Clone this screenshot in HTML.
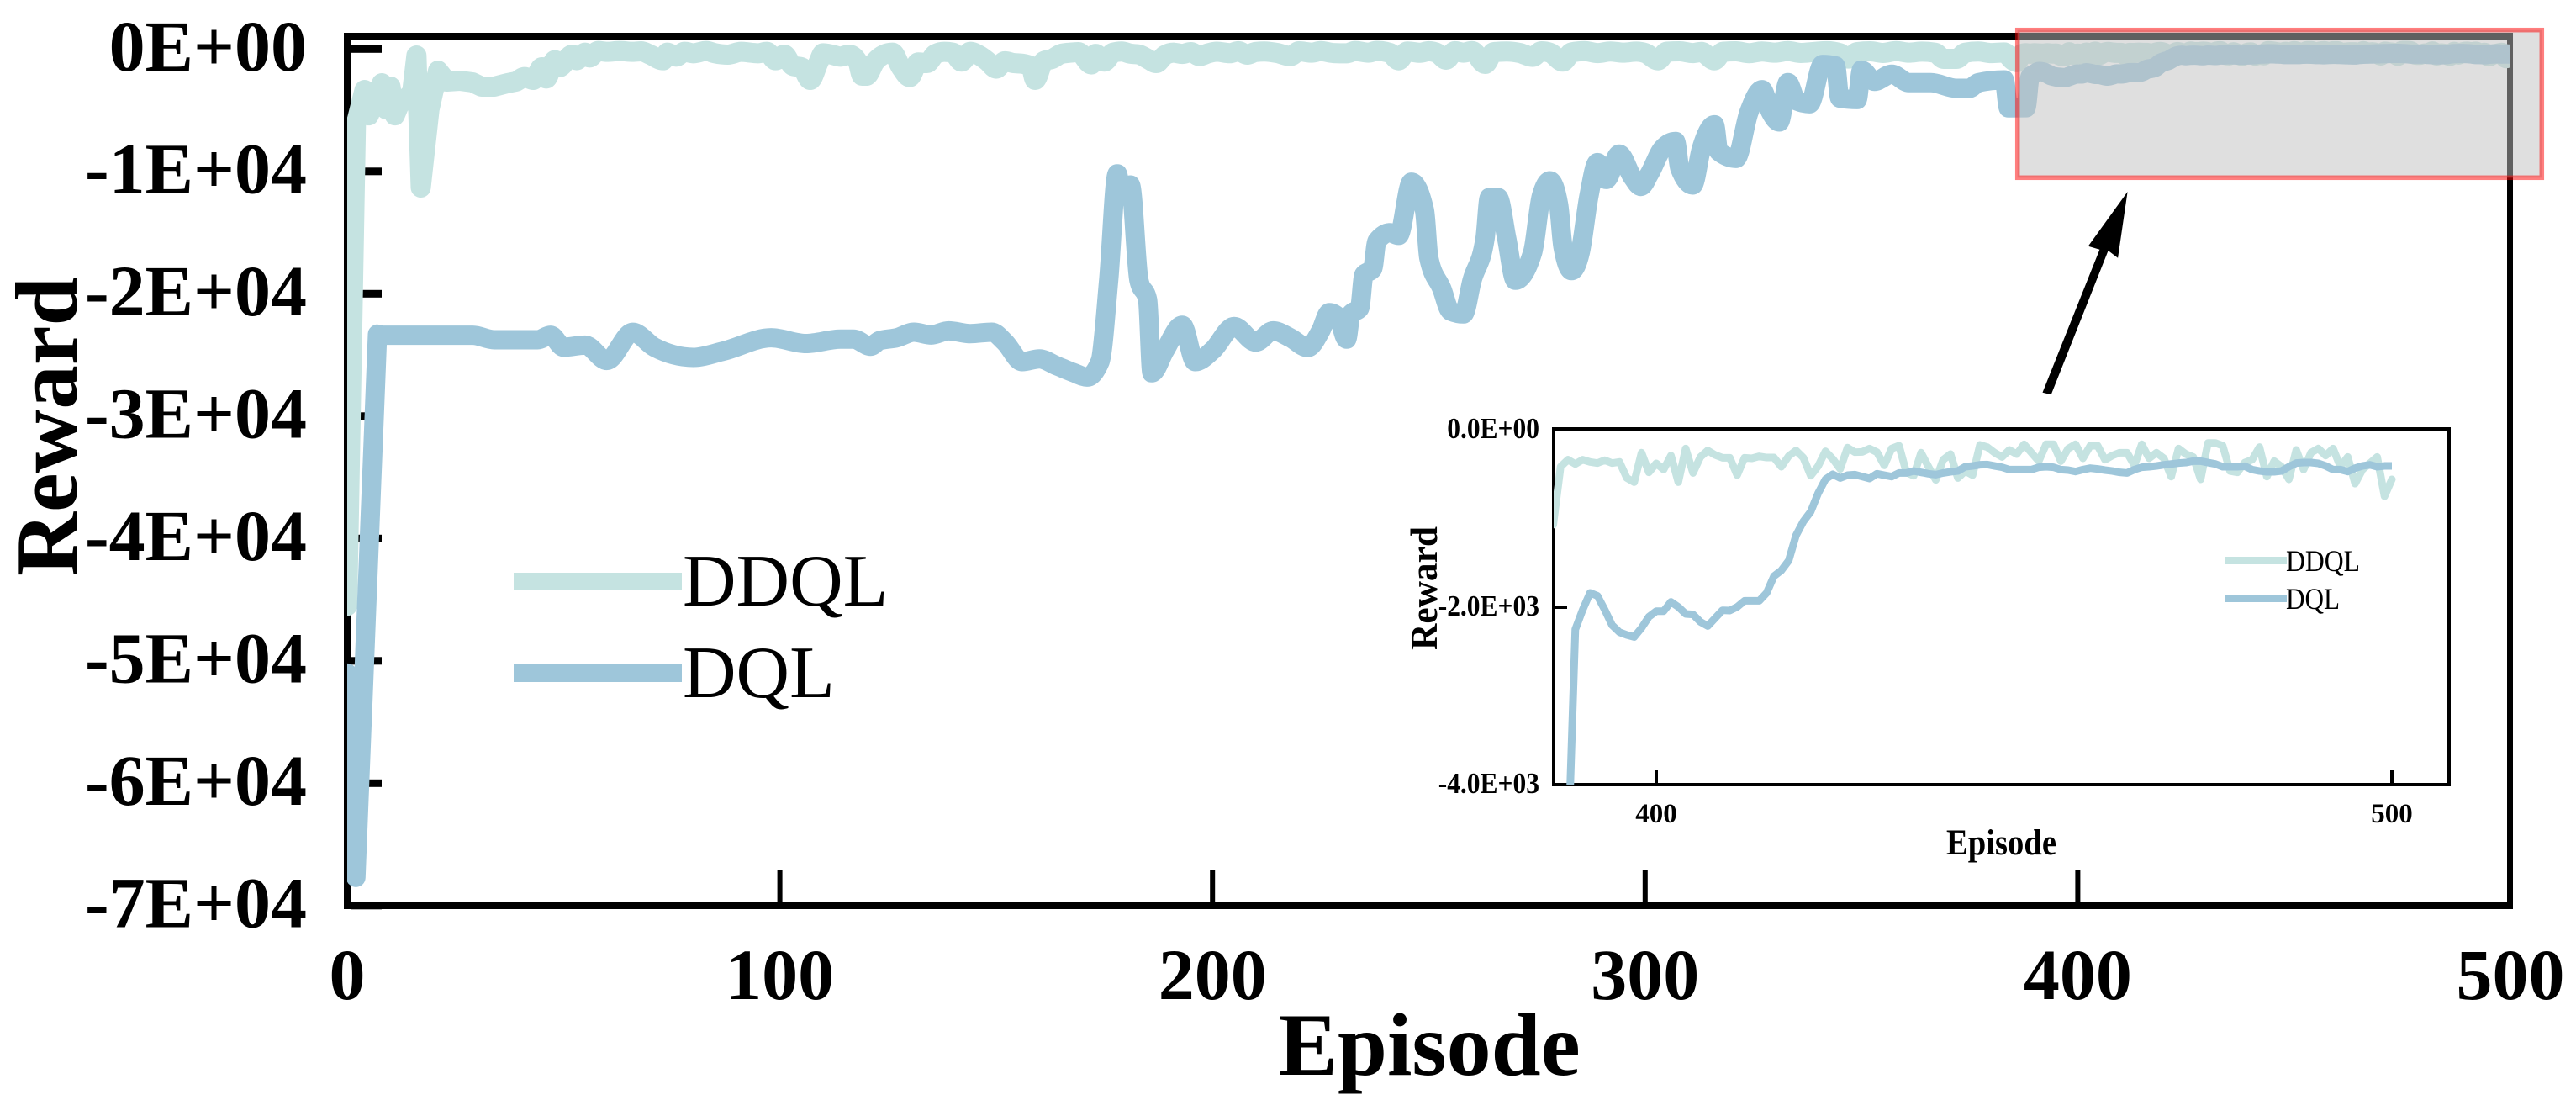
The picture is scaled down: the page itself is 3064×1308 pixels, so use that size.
<!DOCTYPE html>
<html lang="en">
<head>
<meta charset="utf-8">
<title>Reward per Episode: DDQL vs DQL</title>
<style>
html,body{margin:0;padding:0;background:#fff;}
svg{display:block;}
text{font-family:"Liberation Serif",serif;fill:#000;}
.b{font-weight:bold;}
</style>
</head>
<body>
<svg id="chart" xmlns="http://www.w3.org/2000/svg" width="3064" height="1308" viewBox="0 0 3064 1308">
  <defs>
    <clipPath id="main-clip"><rect x="413" y="0" width="2573" height="1081"/></clipPath>
    <clipPath id="inset-clip"><rect x="1848" y="500" width="1065" height="434"/></clipPath>
  </defs>
  <g id="main-axes"></g>
  <g id="main-lines" clip-path="url(#main-clip)"></g>
  <g id="main-frame">
    <rect x="409" y="39" width="2580" height="9" fill="#000"/>
    <rect x="409" y="1072" width="2580" height="9" fill="#000"/>
  </g>
  <text class="b" x="1700" y="1278" font-size="106" text-anchor="middle">Episode</text>
  <text class="b" transform="translate(91,507) rotate(-90)" font-size="105" text-anchor="middle">Reward</text>

  <g>
    <g>
      <rect x="611" y="681" width="200" height="20" fill="#C5E3E1"/>
      <text x="812" y="720" font-size="88">DDQL</text>
    </g>
    <g>
      <rect x="611" y="790" width="200" height="21" fill="#9EC6DA"/>
      <text x="812" y="829" font-size="88">DQL</text>
    </g>
  </g>

  <rect x="2399.7" y="35.7" width="623.6" height="175.6" fill="#C0C0C0" fill-opacity="0.5" stroke="#FF0000" stroke-opacity="0.5" stroke-width="5.5"/>
  <polygon fill="#000" points="2429.5,466.7 2497.4,296.7 2483.8,292.7 2530.6,228 2519.1,306.7 2507.6,298 2439.7,469.3"/>

  <g id="inset">
    <g id="inset-axes"></g>
    <rect x="1848" y="510" width="1065" height="423" fill="none" stroke="#000" stroke-width="4"/>
    <g id="inset-lines" clip-path="url(#inset-clip)"></g>
    <text class="b" x="2315" y="1016" font-size="43" textLength="131" lengthAdjust="spacingAndGlyphs">Episode</text>
    <text class="b" transform="translate(1709,773) rotate(-90)" font-size="45" textLength="147" lengthAdjust="spacingAndGlyphs">Reward</text>
    <g>
      <rect x="2646" y="662" width="74" height="9" fill="#C5E3E1"/>
      <text x="2719" y="679" font-size="36" textLength="88" lengthAdjust="spacingAndGlyphs">DDQL</text>
      <rect x="2646" y="707" width="74" height="9" fill="#9EC6DA"/>
      <text x="2719" y="724" font-size="36" textLength="64" lengthAdjust="spacingAndGlyphs">DQL</text>
    </g>
  </g>
</svg>
<script>
const xTickValues = [0, 100, 200, 300, 400, 500];
const xTickLabels = ["0", "100", "200", "300", "400", "500"];
const yTickValues = [0, -10000, -20000, -30000, -40000, -50000, -60000, -70000];
const yTickLabels = ["0E+00", "-1E+04", "-2E+04", "-3E+04", "-4E+04", "-5E+04", "-6E+04", "-7E+04"];
const insetXTickValues = [400, 500];
const insetXTickLabels = ["400", "500"];
const insetYTickValues = [0, -2000, -4000];
const insetYTickLabels = ["0.0E+00", "-2.0E+03", "-4.0E+03"];

const ddqlEpisodes = [
  0,2,4,5,8,9,10,11,12,14,15,16,17,19,21,23,26,29,31,34,37,39,
  41,43,45,46,48,49,52,53,55,56,58,60,63,66,68,70,73,74,76,78,80,83,85,88,91,95,97,99,
  101,103,105,107,109,110,112,114,116,118,119,120,122,124,126,128,130,132,134,136,138,140,142,144,146,148,
  150,152,154,156,158,159,161,163,165,167,169,172,173,175,177,179,181,183,185,187,189,191,193,195,197,199,
  201,204,206,208,210,212,215,218,220,223,225,228,231,233,236,238,241,243,245,248,250,252,254,256,258,260,263,265,268,271,274,276,278,281,283,286,289,292,295,298,
  300,303,305,308,311,313,316,318,321,324,327,330,333,336,339,342,345,347,349,352,355,358,361,364,367,369,372,374,377,380,383,385,386,
  387,388,389,390,391,392,393,394,395,396,397,398,399,400,
  401,402,403,404,405,406,407,408,409,410,
  411,412,413,414,415,416,417,418,419,420,
  421,422,423,424,425,426,427,428,429,430,
  431,432,433,434,435,436,437,438,439,440,
  441,442,443,444,445,446,447,448,449,450,
  451,452,453,454,455,456,457,458,459,460,
  461,462,463,464,465,466,467,468,469,470,
  471,472,473,474,475,476,477,478,479,480,
  481,482,483,484,485,486,487,488,489,490,
  491,492,493,494,495,496,497,498,499,500
];
const ddqlRewards = [
  -45500,-6170,-3350,-5420,-2800,-4930,-3070,-5420,-4580,-3900,-3550,-530,-11320,-4930,-1770,-2660,-2590,-2730,-3070,-3070,-2800,-2660,
  -2293,-2522,-1491,-2408,-919,-1491,-460,-919,-300,-690,-163,-231,-163,-231,-186,-460,-919,-300,-621,-231,-346,-163,-346,-460,-231,-346,-231,-919,
  -460,-1377,-1491,-2522,-1033,-346,-460,-621,-460,-1033,-2179,-2180,-1033,-460,-300,-1500,-2290,-1100,-1150,-400,-230,-300,-1030,-230,-500,-1000,
  -1600,-1000,-1150,-1200,-1400,-2520,-1000,-800,-400,-300,-250,-1260,-400,-1030,-300,-200,-380,-450,-800,-1150,-500,-300,-400,-250,-580,-350,
  -220,-340,-180,-460,-240,-200,-330,-580,-190,-300,-170,-330,-350,-160,-300,-150,-320,-920,-200,-310,-180,-340,-870,-180,-300,-170,-1220,-260,-200,-320,-640,-190,-300,-1030,-280,-170,-330,-200,-300,-210,
  -330,-920,-220,-190,-330,-240,-920,-230,-190,-340,-200,-300,-170,-320,-240,-180,-340,-780,-260,-190,-320,-170,-300,-210,-300,-800,-800,-300,-200,-330,-280,-940,-1070,
  -417,-338,-386,-338,-363,-376,-344,-376,-363,-544,-591,-259,-480,-379,
  -449,-291,-591,-212,-487,-307,-234,-284,-316,-316,
  -512,-316,-322,-300,-313,-313,-417,-297,-234,-316,
  -518,-411,-243,-329,-442,-202,-253,-250,-212,-253,
  -401,-212,-180,-480,-518,-259,-417,-566,-338,-275,
  -544,-465,-512,-171,-196,-259,-307,-228,-275,-164,
  -259,-354,-164,-164,-354,-212,-164,-322,-180,-180,
  -338,-291,-259,-259,-401,-164,-322,-259,-322,-528,
  -212,-275,-307,-559,-149,-149,-180,-465,-480,-370,
  -338,-196,-528,-354,-417,-559,-228,-449,-259,-212,
  -291,-212,-417,-307,-607,-449,-379,-307,-749,-559
];
const dqlEpisodes = [
  0,2,7,8,16,29,34,44,47,50,
  55,60,66,71,80,87,98,106,114,117,
  121,123,127,131,135,139,144,149,152,156,
  160,164,168,171,174,176,178,179,181,183,
  185,186,189,193,196,200,205,210,214,218,
  222,225,227,229,231,232,234,235,237,238,
  241,243,246,249,250,253,255,258,260,263,
  264,266,268,270,274,276,278,280,281,283,
  285,287,289,291,294,297,299,301,304,307,
  308,311,313,316,317,321,324,327,329,331,
  333,335,338,341,344,345,349,350,353,357,
  361,366,372,375,377,383,384,388,389,390,
  391,392,393,394,395,396,397,398,399,400,
  401,402,403,404,405,406,407,408,409,410,
  411,412,413,414,415,416,417,418,419,420,
  421,422,423,424,425,426,427,428,429,430,
  431,432,433,434,435,436,437,438,439,440,
  441,442,443,444,445,446,447,448,449,450,
  451,452,453,454,455,456,457,458,459,460,
  461,462,463,464,465,466,467,468,469,470,
  471,472,473,474,475,476,477,478,479,480,
  481,482,483,484,485,486,487,488,489,490,
  491,492,493,494,495,496,497,498,499,500
];
const dqlRewards = [
  -51000,-67700,-23300,-23390,-23390,-23390,-23760,-23760,-23390,-24370,
  -24200,-25450,-23150,-24370,-25200,-24680,-23600,-24070,-23710,-23710,
  -24290,-23830,-23600,-23140,-23370,-23030,-23260,-23140,-23950,-25550,
  -25320,-25890,-26460,-26810,-25550,-18900,-10200,-12030,-11110,-18900,
  -20510,-26460,-24630,-22570,-25550,-24630,-22680,-23950,-23030,-23600,
  -24400,-23030,-21540,-21880,-23710,-21650,-21190,-18440,-17980,-15700,
  -15010,-15230,-10880,-13180,-17070,-19590,-21420,-21650,-18900,-15470,
  -12140,-12140,-15470,-18900,-16610,-12030,-10770,-12720,-16150,-18110,
  -16610,-12030,-9280,-10660,-8590,-10430,-11230,-10200,-8140,-7560,
  -9740,-11110,-8140,-6190,-8370,-8940,-5160,-3320,-5160,-5960,
  -2750,-4240,-4470,-1260,-1380,-4010,-4130,-1720,-2640,-2060,
  -2750,-2750,-3210,-3210,-2750,-2520,-4810,-4800,-2250,-2029,
  -1839,-1871,-2029,-2203,-2282,-2313,-2335,-2234,-2108,-2045,
  -2045,-1940,-1997,-2076,-2082,-2165,-2212,-2124,-2035,-2038,
  -1997,-1928,-1928,-1928,-1839,-1650,-1586,-1476,-1191,-1033,
  -923,-717,-559,-502,-544,-512,-506,-528,-550,-496,
  -512,-528,-487,-487,-465,-480,-496,-506,-487,-474,
  -465,-417,-408,-395,-392,-408,-423,-449,-449,-449,
  -449,-423,-417,-423,-449,-455,-471,-449,-433,-442,
  -455,-465,-480,-487,-449,-423,-417,-408,-395,-386,
  -376,-370,-354,-354,-370,-386,-417,-417,-417,-411,
  -449,-465,-474,-474,-465,-417,-376,-370,-370,-379,
  -408,-449,-449,-471,-433,-408,-395,-417,-408,-408
];

const NS = "http://www.w3.org/2000/svg";
const mainX = e => 413 + (e / 500) * 2573;
const mainY = v => 58.3 - (v / 10000) * 145.5;
const insetX = e => 1970 + (e - 400) * 8.75;
const insetY = v => 511 - (v / 2000) * 211;

function make(tag, attrs, parent, content) {
  const el = document.createElementNS(NS, tag);
  for (const k in attrs) el.setAttribute(k, attrs[k]);
  if (content !== undefined) el.textContent = content;
  parent.appendChild(el);
  return el;
}
function pathFrom(eps, vals, xf, yf, minEp) {
  const parts = [];
  for (let i = 0; i < eps.length; i++) {
    if (eps[i] < minEp) continue;
    parts.push((parts.length ? "L" : "M") + xf(eps[i]).toFixed(2) + " " + yf(vals[i]).toFixed(2));
  }
  return parts.join("");
}
/* Monotone cubic through every data point: keeps peaks where they are but rounds them,
   used after the straight start-up segments (polyline up to polyUntilEp). */
function smoothPathFrom(eps, vals, xf, yf, polyUntilEp) {
  const px = eps.map(xf);
  const py = vals.map(yf);
  const n = px.length;
  const sl = [];
  for (let i = 0; i < n - 1; i++) sl.push((py[i + 1] - py[i]) / (px[i + 1] - px[i]));
  const t = new Array(n).fill(0);
  t[0] = sl[0];
  t[n - 1] = sl[n - 2];
  for (let i = 1; i < n - 1; i++) {
    if (sl[i - 1] * sl[i] <= 0) { t[i] = 0; continue; }
    const h0 = px[i] - px[i - 1];
    const h1 = px[i + 1] - px[i];
    const w = (h0 * sl[i] + h1 * sl[i - 1]) / (h0 + h1);
    const s = Math.min(Math.abs(sl[i - 1]), Math.abs(sl[i]));
    t[i] = Math.sign(sl[i]) * Math.min(2 * s, Math.abs(w));
  }
  let d = "M" + px[0].toFixed(2) + " " + py[0].toFixed(2);
  for (let i = 0; i < n - 1; i++) {
    if (eps[i + 1] <= polyUntilEp) {
      d += "L" + px[i + 1].toFixed(2) + " " + py[i + 1].toFixed(2);
    } else {
      const h = (px[i + 1] - px[i]) / 3;
      d += "C" + (px[i] + h).toFixed(2) + " " + (py[i] + h * t[i]).toFixed(2) + " " +
           (px[i + 1] - h).toFixed(2) + " " + (py[i + 1] - h * t[i + 1]).toFixed(2) + " " +
           px[i + 1].toFixed(2) + " " + py[i + 1].toFixed(2);
    }
  }
  return d;
}

const mainAxes = document.getElementById("main-axes");
const mainLines = document.getElementById("main-lines");
const insetAxes = document.getElementById("inset-axes");
const insetLines = document.getElementById("inset-lines");

const leftSpine = make("rect", {x: 409, y: 39, width: 8, height: 1042, fill: "#000"}, mainAxes);


const rightSpine = make("rect", {x: 2982, y: 39, width: 7, height: 1042, fill: "#000"}, mainAxes);



yTickValues.forEach((v, i) => {
  const tick = make("rect", {x: 417, y: mainY(v) - 4.5, width: 37, height: 9, fill: "#000"}, mainAxes);
  
  
  const label = make("text", {x: 365, y: mainY(v) + 25.5, "font-size": 86, "text-anchor": "end", "class": "b"}, mainAxes, yTickLabels[i]);
  
  
});
xTickValues.forEach((v, i) => {
  const tick = make("rect", {x: mainX(v) - 3, y: 1035, width: 6, height: 37, fill: "#000"}, mainAxes);
  
  
  const label = make("text", {x: mainX(v), y: 1188, "font-size": 86, "text-anchor": "middle", "class": "b"}, mainAxes, xTickLabels[i]);
  
  
});

const mainDdql = make("path", {d: smoothPathFrom(ddqlEpisodes, ddqlRewards, mainX, mainY, 39), fill: "none", stroke: "#C5E3E1", "stroke-width": 24, "stroke-linejoin": "round", "stroke-linecap": "round"}, mainLines);


const mainDql = make("path", {d: smoothPathFrom(dqlEpisodes, dqlRewards, mainX, mainY, 16), fill: "none", stroke: "#9EC6DA", "stroke-width": 23, "stroke-linejoin": "round", "stroke-linecap": "round"}, mainLines);



insetYTickValues.forEach((v, i) => {
  const tick = make("rect", {x: 1848, y: insetY(v) - 2, width: 16, height: 4, fill: "#000"}, insetAxes);
  
  
  const label = make("text", {x: 1831, y: insetY(v) + 10, "font-size": 35, "text-anchor": "end", "class": "b", transform: "translate(1831 0) scale(0.9 1) translate(-1831 0)"}, insetAxes, insetYTickLabels[i]);
  
  
});
insetXTickValues.forEach((v, i) => {
  const tick = make("rect", {x: insetX(v) - 2, y: 916, width: 4, height: 17, fill: "#000"}, insetAxes);
  
  
  const label = make("text", {x: insetX(v), y: 978, "font-size": 33, "text-anchor": "middle", "class": "b"}, insetAxes, insetXTickLabels[i]);
  
  
});

const insetDdql = make("path", {d: pathFrom(ddqlEpisodes, ddqlRewards, insetX, insetY, 385), fill: "none", stroke: "#C5E3E1", "stroke-width": 9, "stroke-linejoin": "round", "stroke-linecap": "round"}, insetLines);


const insetDql = make("path", {d: pathFrom(dqlEpisodes, dqlRewards, insetX, insetY, 384), fill: "none", stroke: "#9EC6DA", "stroke-width": 9, "stroke-linejoin": "round", "stroke-linecap": "butt"}, insetLines);


</script>
</body>
</html>
